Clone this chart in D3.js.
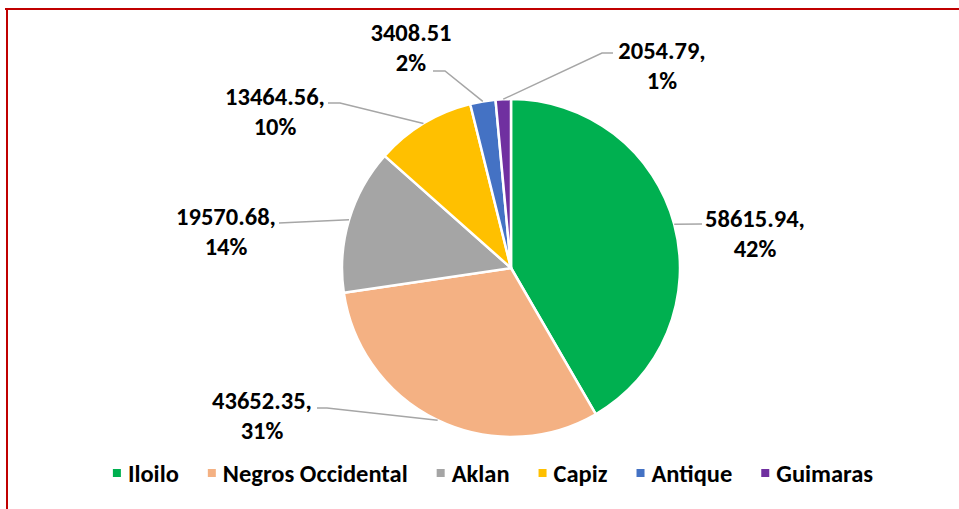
<!DOCTYPE html>
<html>
<head>
<meta charset="utf-8">
<script src="https://cdn.jsdelivr.net/npm/d3@7"></script>
<style>
  body { margin: 0; background: #fff; }
  text { font-family: Carlito, Calibri, Lato, "Open Sans", sans-serif; font-weight: bold; fill: #000; }
</style>
</head>
<body>
<svg id="chart" width="959" height="509"></svg>
<script>
// data
var provinces = ["Iloilo", "Negros Occidental", "Aklan", "Capiz", "Antique", "Guimaras"];
var amounts = [58615.94, 43652.35, 19570.68, 13464.56, 3408.51, 2054.79];
var colors = ["#00B050", "#F4B183", "#A5A5A5", "#FFC000", "#4472C4", "#7030A0"];
var valueText = ["58615.94,", "43652.35,", "19570.68,", "13464.56,", "3408.51", "2054.79,"];

// label layout: text centre x, first line y, and leader line points on the text side
var labelPos = [[755, 218], [262, 400], [226, 216], [275, 96], [411, 32], [662, 50]];
var leaderPts = [
  [[702, 224]],
  [[317, 408], [327, 408]],
  [[279, 223]],
  [[328, 103], [340, 103]],
  [[433, 71], [445, 71]],
  [[613, 53], [602, 53]]
];

var svg = d3.select("#chart");
var cx = 511, cy = 268, r = 169;
var fontSize = 24.5, lineGap = 30;
var total = d3.sum(amounts);

// red frame (top and left edges)
svg.append("line").attr("x1", 5).attr("y1", 9).attr("x2", 959).attr("y2", 9)
  .attr("stroke", "#C00000").attr("stroke-width", 2);
svg.append("line").attr("x1", 7).attr("y1", 8).attr("x2", 7).attr("y2", 509)
  .attr("stroke", "#C00000").attr("stroke-width", 2);

var pie = d3.pie().sort(null).value(function(d) { return d; });
var arcs = pie(amounts);
var arc = d3.arc().innerRadius(0).outerRadius(r);

var g = svg.append("g").attr("transform", "translate(" + cx + "," + cy + ")");
g.selectAll("path.slice")
  .data(arcs)
  .enter()
  .append("path")
  .attr("class", "slice")
  .attr("d", arc)
  .attr("fill", function(d, i) { return colors[i]; })
  .attr("stroke", "#fff")
  .attr("stroke-width", 2.5)
  .attr("stroke-linejoin", "round");

// leader lines
arcs.forEach(function(d, i) {
  var mid = (d.startAngle + d.endAngle) / 2;
  var edge = [cx + r * Math.sin(mid), cy - r * Math.cos(mid)];
  var pts = leaderPts[i].concat([edge]);
  svg.append("path")
    .attr("d", d3.line()(pts))
    .attr("fill", "none")
    .attr("stroke", "#A6A6A6")
    .attr("stroke-width", 1.5);
});

// labels
arcs.forEach(function(d, i) {
  var pct = Math.round(amounts[i] / total * 100) + "%";
  var t = svg.append("text")
    .attr("text-anchor", "middle")
    .style("font-size", fontSize + "px");
  t.append("tspan").attr("x", labelPos[i][0]).attr("y", labelPos[i][1]).attr("dy", "0.36em").text(valueText[i]);
  t.append("tspan").attr("x", labelPos[i][0]).attr("y", labelPos[i][1] + lineGap).attr("dy", "0.36em").text(pct);
});

// legend
var legend = svg.append("g");
var lx = 0, ly = 473;
provinces.forEach(function(p, i) {
  var item = legend.append("g").attr("transform", "translate(" + lx + ",0)");
  item.append("rect").attr("x", 0).attr("y", ly - 4).attr("width", 8).attr("height", 8).attr("fill", colors[i]);
  var tx = item.append("text").attr("x", 15).attr("y", ly).attr("dy", "0.36em")
    .style("font-size", fontSize + "px").text(p);
  lx += 15 + tx.node().getComputedTextLength() + 29;
});
var legendW = lx - 29;
legend.attr("transform", "translate(" + (493 - legendW / 2) + ",0)");
</script>
</body>
</html>
